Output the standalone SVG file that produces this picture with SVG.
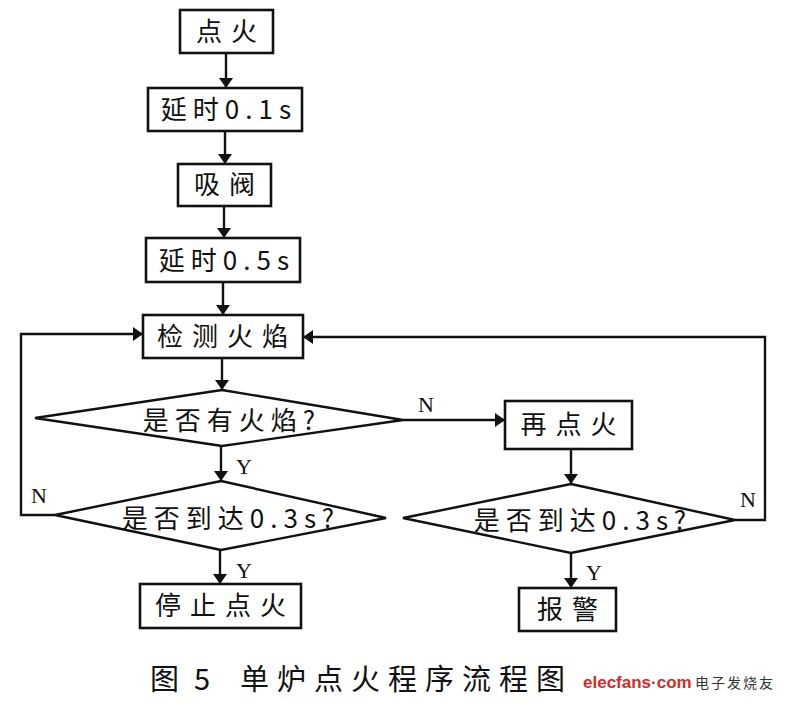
<svg xmlns="http://www.w3.org/2000/svg" width="786" height="704" viewBox="0 0 786 704">
<defs>
<marker id="ah" viewBox="0 0 10 10" refX="10" refY="5" markerWidth="10" markerHeight="14" markerUnits="userSpaceOnUse" orient="auto-start-reverse" preserveAspectRatio="none">
<path d="M0,0 L10,5 L0,10 Z" fill="#111"/>
</marker>
<style>
.box{fill:#fff;stroke:#111;stroke-width:2.6}
.dia{fill:#fff;stroke:#111;stroke-width:2.4}
.t{font-family:"Noto Sans CJK SC","Noto Sans CJK JP",sans-serif;font-size:26px;fill:#111;text-anchor:middle;letter-spacing:9px}
.lbl{font-family:"Liberation Serif",serif;font-size:22px;fill:#111}
.c{fill:none;stroke:#111;stroke-width:2.4}
.cap{font-family:"Noto Sans CJK SC",sans-serif;font-size:29px;fill:#111;letter-spacing:8px}
</style>
</defs>
<rect width="786" height="704" fill="#fff"/>
<g id="connectors">
<line class="c" x1="226" y1="53" x2="226" y2="88" marker-end="url(#ah)"/>
<line class="c" x1="225" y1="131" x2="225" y2="164" marker-end="url(#ah)"/>
<line class="c" x1="224" y1="206" x2="224" y2="238" marker-end="url(#ah)"/>
<line class="c" x1="223" y1="282" x2="223" y2="315" marker-end="url(#ah)"/>
<line class="c" x1="222" y1="358" x2="222" y2="390" marker-end="url(#ah)"/>
<line class="c" x1="221" y1="446" x2="221" y2="481" marker-end="url(#ah)"/>
<line class="c" x1="220" y1="550" x2="220" y2="584" marker-end="url(#ah)"/>
<polyline class="c" points="55,515 21,515 21,334 143,334" marker-end="url(#ah)"/>
<line class="c" x1="403" y1="420" x2="505" y2="420" marker-end="url(#ah)"/>
<line class="c" x1="571" y1="449" x2="571" y2="484" marker-end="url(#ah)"/>
<line class="c" x1="571" y1="553" x2="571" y2="588" marker-end="url(#ah)"/>
<polyline class="c" points="735,520 765,520 765,337 303,337" marker-end="url(#ah)"/>
<text class="lbl" x="236" y="474">Y</text>
<text class="lbl" x="236" y="578">Y</text>
<text class="lbl" x="31" y="503">N</text>
<text class="lbl" x="418" y="412">N</text>
<text class="lbl" x="740" y="507">N</text>
<text class="lbl" x="586" y="580">Y</text>
</g>
<g id="n1"><rect class="box" x="180" y="10" width="93" height="43"/><text class="t" x="231" y="41">点火</text></g>
<g id="n2"><rect class="box" x="148" y="88" width="154" height="43"/><text class="t" x="229" y="119" style="letter-spacing:6px">延时0.1s</text></g>
<g id="n3"><rect class="box" x="178" y="164" width="93" height="42"/><text class="t" x="229" y="194">吸阀</text></g>
<g id="n4"><rect class="box" x="146" y="238" width="154" height="44"/><text class="t" x="227" y="270" style="letter-spacing:6px">延时0.5s</text></g>
<g id="n5"><rect class="box" x="143" y="315" width="160" height="43"/><text class="t" x="227" y="346">检测火焰</text></g>
<g id="n6"><polygon class="dia" points="222,390 403,420 222,446 35,418"/><text class="t" x="232" y="430" style="letter-spacing:6px">是否有火焰?</text></g>
<g id="n7"><polygon class="dia" points="221,481 386,518 221,550 55,515"/><text class="t" x="231" y="528" style="letter-spacing:6px">是否到达0.3s?</text></g>
<g id="n8"><rect class="box" x="140" y="584" width="161" height="44"/><text class="t" x="225" y="615">停止点火</text></g>
<g id="n9"><rect class="box" x="505" y="401" width="127" height="48"/><text class="t" x="573" y="434">再点火</text></g>
<g id="n10"><polygon class="dia" points="571,484 735,520 571,553 403,518"/><text class="t" x="583" y="530" style="letter-spacing:6px">是否到达0.3s?</text></g>
<g id="n11"><rect class="box" x="519" y="588" width="97" height="43"/><text class="t" x="572" y="619">报警</text></g>
<g id="caption">
<text class="cap" x="150" y="690">图</text>
<text class="cap" x="194" y="690">5</text>
<text class="cap" x="240" y="690">单炉点火程序流程图</text>
<text x="583" y="688" style="font-family:'Liberation Sans',sans-serif;font-weight:bold;font-size:17px;fill:#d42a2a">elecfans·com</text>
<text x="695" y="688" style="font-family:'Noto Sans CJK SC',sans-serif;font-size:14px;fill:#333;letter-spacing:2px">电子发烧友</text>
</g>
</svg>
